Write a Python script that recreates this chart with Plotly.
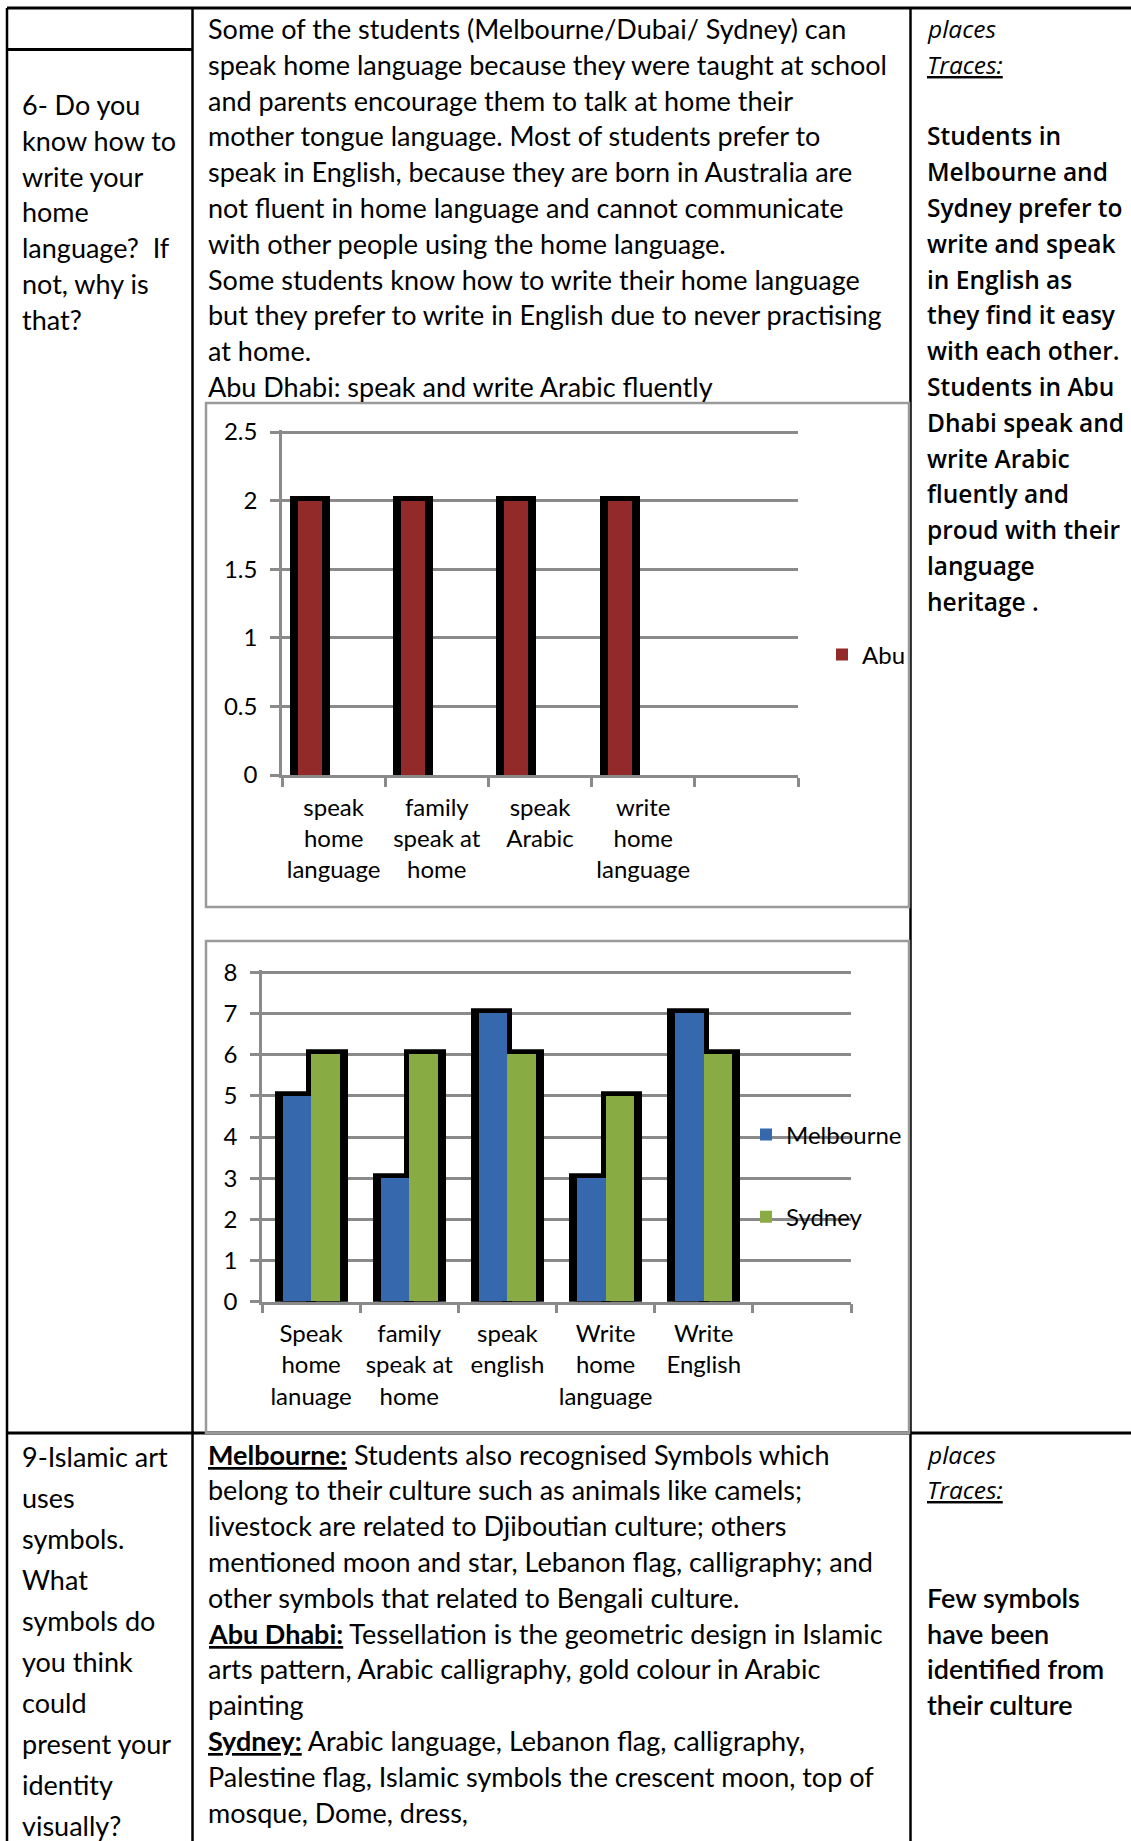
import plotly.graph_objects as go

W, H = 1131, 1841

# ---------------- data ----------------
abu_categories = ["speak<br>home<br>language", "family<br>speak at<br>home",
                  "speak<br>Arabic", "write<br>home<br>language"]
abu_values = [2, 2, 2, 2]
abu_slots = 5          # one empty slot on the right of the axis
abu_ymax, abu_dtick = 2.5, 0.5

city_categories = ["Speak<br>home<br>lanuage", "family<br>speak at<br>home",
                   "speak<br>english", "Write<br>home<br>language", "Write<br>English"]
melbourne_values = [5, 3, 7, 3, 7]
sydney_values = [6, 6, 6, 5, 6]
city_slots = 6
city_ymax, city_dtick = 8, 1

q6_question = ["6- Do you", "know how to", "write your", "home",
               "language?  If", "not, why is", "that?"]
q6_answer = [
    "Some of the students (Melbourne/Dubai/ Sydney) can",
    "speak home language because they were taught at school",
    "and parents encourage them to talk at home their",
    "mother tongue language. Most of students prefer to",
    "speak in English, because they are born in Australia are",
    "not fluent in home language and cannot communicate",
    "with other people using the home language.",
    "Some students know how to write their home language",
    "but they prefer to write in English due to never practising",
    "at home.",
    "Abu Dhabi: speak and write Arabic fluently",
]
q6_traces = ["<i>places</i>", "<i><u>Traces:</u></i>", "", "Students in", "Melbourne and",
             "Sydney prefer to", "write and speak", "in English as", "they find it easy",
             "with each other.", "Students in Abu", "Dhabi speak and", "write Arabic",
             "fluently and", "proud with their", "language", "heritage ."]

q9_question = ["9-Islamic art", "uses", "symbols.", "What", "symbols do", "you think",
               "could", "present your", "identity", "visually?"]
q9_answer = [
    "<b><u>Melbourne:</u></b> Students also recognised Symbols which",
    "belong to their culture such as animals like camels;",
    "livestock are related to Djiboutian culture; others",
    "mentioned moon and star, Lebanon flag, calligraphy; and",
    "other symbols that related to Bengali culture.",
    "<b><u>Abu Dhabi:</u></b> Tessellation is the geometric design in Islamic",
    "arts pattern, Arabic calligraphy, gold colour in Arabic",
    "painting",
    "<b><u>Sydney:</u></b> Arabic language, Lebanon flag, calligraphy,",
    "Palestine flag, Islamic symbols the crescent moon, top of",
    "mosque, Dome, dress,",
]
q9_traces_head = ["<i>places</i>", "<i><u>Traces:</u></i>"]
q9_traces_body = ["Few symbols", "have been", "identified from", "their culture"]

# ---------------- helpers ----------------
def fx(x):
    return x / W

def fy(y):
    return 1 - y / H

GRID = "#8a8a8a"
BODY_FONT = dict(family="Lato", size=27, color="black")
RIGHT_FONT = dict(family="Open Sans", size=24.5, color="black", weight=600)
RIGHT_HEAD = dict(family="Open Sans", size=24.5, color="black")
RIGHT_FONT2 = dict(family="Lato", size=27, color="black", weight=600)
CHART_FONT = dict(family="Lato", size=24, color="black")

fig = go.Figure()

# ---------------- chart 1 (Abu Dhabi) ----------------
u1 = (798 - 282) / abu_slots
w1 = 24 / u1
o1 = -35.6 / u1
e1 = 3 / u1
xs1 = list(range(len(abu_values)))
fig.add_trace(go.Bar(x=xs1, y=abu_values, width=w1 + 2 * e1, offset=o1 - e1,
                     marker=dict(color="black", line=dict(color="black", width=10)),
                     showlegend=False, hoverinfo="skip", xaxis="x", yaxis="y"))
fig.add_trace(go.Bar(x=xs1, y=abu_values, width=w1, offset=o1, name="Abu",
                     marker=dict(color="#932a2a", line=dict(width=0)),
                     xaxis="x", yaxis="y", legend="legend"))

# ---------------- chart 2 (Melbourne / Sydney) ----------------
u2 = (851 - 262) / city_slots
w2 = 28.5 / u2
e2 = 3 / u2
xs2 = list(range(len(city_categories)))
fig.add_trace(go.Bar(x=xs2, y=melbourne_values, width=w2 + e2, offset=-w2 - e2,
                     marker=dict(color="black", line=dict(color="black", width=10)),
                     showlegend=False, hoverinfo="skip", xaxis="x2", yaxis="y2"))
fig.add_trace(go.Bar(x=xs2, y=sydney_values, width=w2 + e2, offset=0,
                     marker=dict(color="black", line=dict(color="black", width=10)),
                     showlegend=False, hoverinfo="skip", xaxis="x2", yaxis="y2"))
fig.add_trace(go.Bar(x=xs2, y=melbourne_values, width=w2, offset=-w2, name="Melbourne",
                     marker=dict(color="#3568ad", line=dict(width=0)), legendgroup="m",
                     xaxis="x2", yaxis="y2", legend="legend2"))
fig.add_trace(go.Bar(x=xs2, y=sydney_values, width=w2, offset=0, name="Sydney",
                     marker=dict(color="#89ab43", line=dict(width=0)), legendgroup="s",
                     xaxis="x2", yaxis="y2", legend="legend2"))


def xaxis_cfg(domain, labels, slots, anchor):
    return dict(domain=domain, range=[-0.5, slots - 0.5], tickmode="array",
                tickvals=list(range(len(labels))), ticktext=labels, ticks="",
                showline=True, linecolor=GRID, linewidth=2.5, showgrid=False,
                zeroline=False, tickfont=CHART_FONT, ticklabelstandoff=9,
                minor=dict(tickmode="array", tickvals=[i - 0.5 for i in range(slots + 1)],
                           ticks="outside", ticklen=9, tickwidth=2.5, tickcolor=GRID,
                           showgrid=False),
                anchor=anchor, automargin=False, fixedrange=True)


def yaxis_cfg(y_zero_px, y_top_px, top, dtick, anchor):
    # extend the axis 2px above the top tick so its gridline is kept
    per_px = top / (y_zero_px - y_top_px)
    return dict(domain=[fy(y_zero_px), fy(y_top_px - 2)], range=[0, top + 2 * per_px],
                dtick=dtick, tick0=0, showgrid=True,
                gridcolor=GRID, gridwidth=2.5, ticks="outside", ticklen=9, tickwidth=2.5,
                tickcolor=GRID, showline=True, linecolor=GRID, linewidth=2.5,
                zeroline=False, tickfont=CHART_FONT, ticklabelstandoff=8,
                anchor=anchor, automargin=False, fixedrange=True)


# ---------------- table lines & chart boxes ----------------
shapes = []

def line(x0, y0, x1, y1, color="black", width=2.5):
    shapes.append(dict(type="line", xref="paper", yref="paper", x0=fx(x0), y0=fy(y0),
                       x1=fx(x1), y1=fy(y1), line=dict(color=color, width=width)))

line(7, 8, W, 8, width=3)
line(7, 8, 7, H, width=2.5)
line(192.5, 8, 192.5, H, width=2.5)
line(910.5, 8, 910.5, H, width=2.5)
line(7, 49.5, 192.5, 49.5, width=3)
line(7, 1433, W, 1433, width=3)
for (y0, y1) in [(403, 907), (941, 1433)]:
    shapes.append(dict(type="rect", xref="paper", yref="paper", x0=fx(206), x1=fx(909),
                       y0=fy(y1), y1=fy(y0), line=dict(color="#9a9a9a", width=2.5)))

# ---------------- table text ----------------
annotations = []

def text_block(lines, x, y0, step, font):
    for i, t in enumerate(lines):
        if not t:
            continue
        annotations.append(dict(text=t, x=fx(x), y=fy(y0 + i * step), xref="paper",
                                yref="paper", xanchor="left", yanchor="middle",
                                showarrow=False, font=font))

text_block(q6_question, 20, 104.5, 35.8, BODY_FONT)
text_block(q6_answer, 206, 28.5, 35.8, BODY_FONT)
text_block(q6_traces[:2], 925, 28.5, 35.8, RIGHT_HEAD)
text_block(q6_traces[2:], 925, 28.5 + 2 * 35.8, 35.8, RIGHT_FONT)
text_block(q9_question, 20, 1456, 41.0, BODY_FONT)
text_block(q9_answer, 206, 1454, 35.8, BODY_FONT)
text_block(q9_traces_head, 925, 1454, 35.8, RIGHT_HEAD)
text_block(q9_traces_body, 925, 1454 + 4 * 35.8, 35.8, RIGHT_FONT2)

fig.update_layout(
    width=W, height=H, margin=dict(l=0, r=0, t=0, b=0, pad=0, autoexpand=False),
    paper_bgcolor="white", plot_bgcolor="rgba(0,0,0,0)",
    barmode="overlay", bargap=0,
    xaxis=xaxis_cfg([fx(282), fx(798)], abu_categories, abu_slots, "y"),
    yaxis=yaxis_cfg(775, 432, abu_ymax, abu_dtick, "x"),
    xaxis2=xaxis_cfg([fx(262), fx(851)], city_categories, city_slots, "y2"),
    yaxis2=yaxis_cfg(1301.7, 972.3, city_ymax, city_dtick, "x2"),
    legend=dict(x=fx(822), y=fy(655), xanchor="left", yanchor="middle",
                bgcolor="rgba(0,0,0,0)", font=CHART_FONT, itemwidth=30),
    legend2=dict(x=fx(746), y=fy(1176), xanchor="left", yanchor="middle",
                 bgcolor="rgba(0,0,0,0)", font=CHART_FONT, itemwidth=30,
                 tracegroupgap=48),
    shapes=shapes, annotations=annotations, showlegend=True,
)

fig.write_html("out.html")
